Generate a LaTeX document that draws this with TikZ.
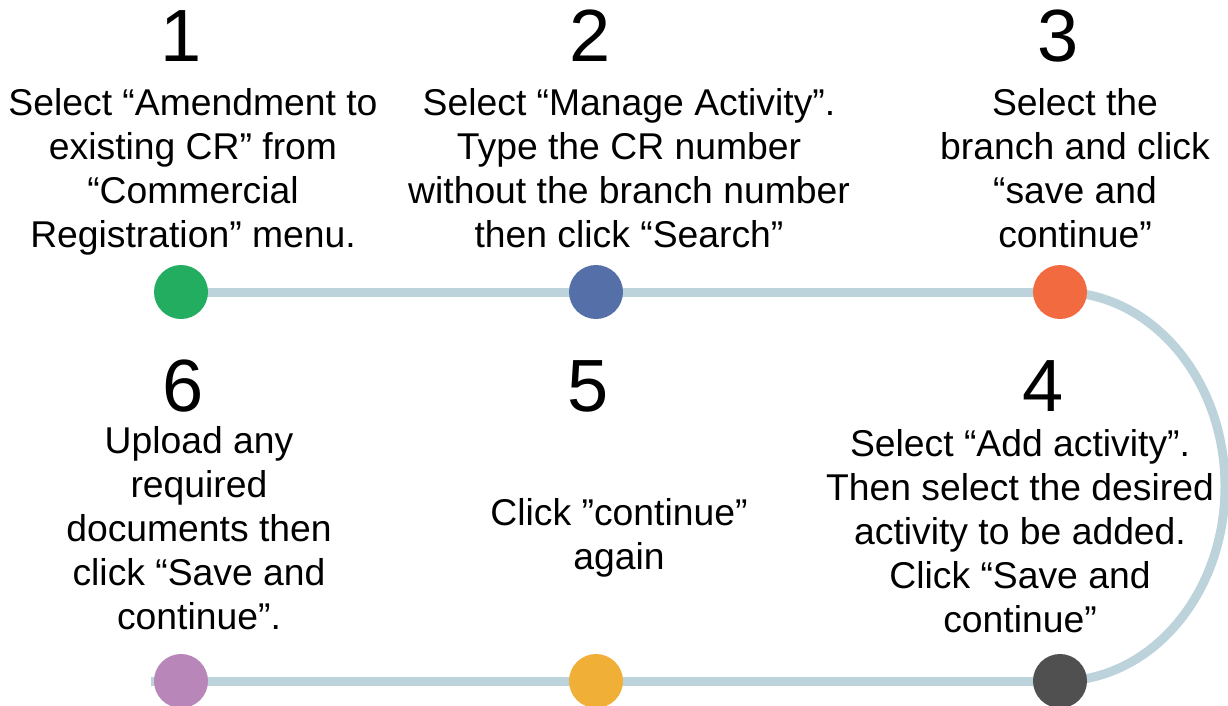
\documentclass[tikz,border=0pt]{standalone}
\usepackage{fontspec}
\setmainfont{Liberation Sans}
\usetikzlibrary{backgrounds}
\definecolor{track}{HTML}{BDD3DC}
\definecolor{stepgreen}{HTML}{22AD60}
\definecolor{stepblue}{HTML}{5570A8}
\definecolor{steporange}{HTML}{F26A3F}
\definecolor{stepgray}{HTML}{505050}
\definecolor{stepyellow}{HTML}{F0B038}
\definecolor{steppurple}{HTML}{B886B8}
\begin{document}
\begin{tikzpicture}[x=1pt,y=-1pt,
  dot/.style={circle,inner sep=0pt,minimum size=54pt,draw=none},
  numlabel/.style={anchor=base,inner sep=0pt,font=\fontsize{74}{80}\selectfont},
  desc/.style={anchor=north,inner sep=0pt,align=center,font=\fontsize{37.3}{44}\selectfont},
  trackline/.style={draw=track,line width=9pt}]
\useasboundingbox (0,0) rectangle (1228,705);

% step markers
\node[dot,fill=stepgreen]  (c1) at (181,292) {};
\node[dot,fill=stepblue]   (c2) at (596,292) {};
\node[dot,fill=steporange] (c3) at (1060,292) {};
\node[dot,fill=stepgray]   (c4) at (1060,681) {};
\node[dot,fill=stepyellow] (c5) at (596,681) {};
\node[dot,fill=steppurple] (c6) at (181,681) {};

% track behind the markers
\begin{scope}[on background layer]
  \draw[trackline] (c1.center) -- (c2.center) -- (c3.center);
  \draw[trackline] (c3.center) arc[start angle=90,end angle=-90,x radius=165pt,y radius=194.5pt];
  \draw[trackline] (c4.center) -- (c5.center) -- (c6.center) -- ([xshift=-30pt]c6.center);
\end{scope}

% step numbers
\node[numlabel] (n1) at (181,61) {1};
\node[numlabel] (n2) at (590,61) {2};
\node[numlabel] (n3) at (1058,61) {3};
\node[numlabel] (n4) at (1043,411) {4};
\node[numlabel] (n5) at (588,411) {5};
\node[numlabel] (n6) at (183,411) {6};

% step descriptions
\node[desc] (t1) at (193,88) {Select “Amendment to\\existing CR” from\\“Commercial\\Registration” menu.};
\node[desc] (t2) at (629,88) {Select “Manage Activity”.\\Type the CR number\\without the branch number\\then click “Search”};
\node[desc] (t3) at (1075,88) {Select the\\branch and click\\“save and\\continue”};
\node[desc] (t4) at (1020,429) {Select “Add activity”.\\Then select the desired\\activity to be added.\\Click “Save and\\continue”};
\node[desc] (t5) at (619,498) {Click ”continue”\\again};
\node[desc] (t6) at (199,426) {Upload any\\required\\documents then\\click “Save and\\continue”.};
\end{tikzpicture}
\end{document}
